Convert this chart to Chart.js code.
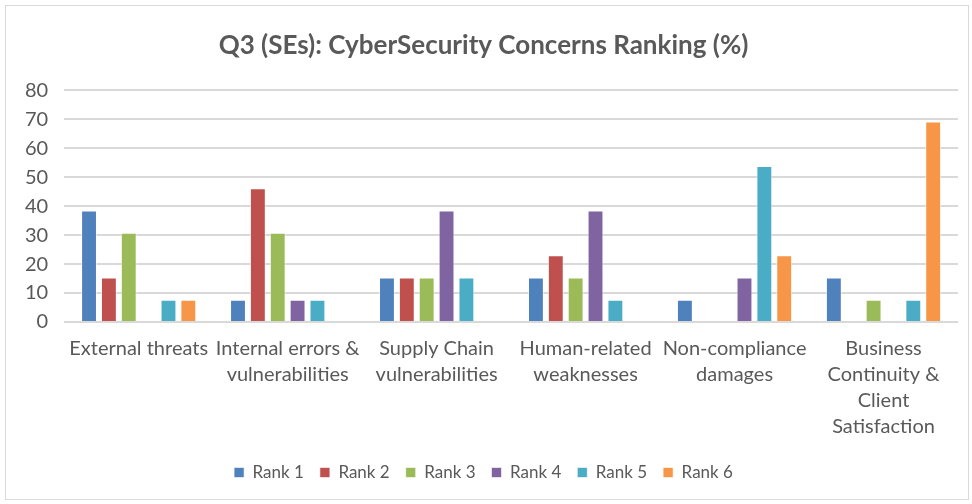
<!DOCTYPE html>
<html>
<head>
<meta charset="utf-8">
<script src="https://cdn.jsdelivr.net/npm/chart.js@4/dist/chart.umd.min.js"></script>
<style>
  html, body { margin: 0; padding: 0; background: #fff; }
  #wrap { position: absolute; left: 5px; top: 5px; width: 964px; height: 495px; border: 1px solid #d9d9d9; box-sizing: border-box; }
  canvas { display: block; }
</style>
</head>
<body>
<div id="wrap"><canvas id="chart"></canvas></div>
<script>
// survey categories (multi-line labels)
const categories = [
  ["External threats"],
  ["Internal errors &", "vulnerabilities"],
  ["Supply Chain", "vulnerabilities"],
  ["Human-related", "weaknesses"],
  ["Non-compliance", "damages"],
  ["Business", "Continuity &", "Client", "Satisfaction"]
];
const rankNames = ["Rank 1", "Rank 2", "Rank 3", "Rank 4", "Rank 5", "Rank 6"];
const rankColors = ["#4f81bd", "#c0504d", "#9bbb59", "#8064a2", "#4bacc6", "#f79646"];

// percent of respondents per rank
const rank1 = [38.46, 7.69, 15.38, 15.38, 7.69, 15.38];
const rank2 = [15.38, 46.15, 15.38, 23.08, 0, 0];
const rank3 = [30.77, 30.77, 15.38, 15.38, 0, 7.69];
const rank4 = [0, 7.69, 38.46, 38.46, 15.38, 0];
const rank5 = [7.69, 7.69, 15.38, 7.69, 53.85, 7.69];
const rank6 = [7.69, 0, 0, 0, 23.08, 69.23];
const rankValues = [rank1, rank2, rank3, rank4, rank5, rank6];

const yTicks = [0, 10, 20, 30, 40, 50, 60, 70, 80];

const wrap = document.getElementById("wrap");
const canvas = document.getElementById("chart");
canvas.width = wrap.clientWidth;
canvas.height = wrap.clientHeight;

new Chart(canvas, {
  type: "bar",
  data: {
    labels: categories,
    datasets: rankValues.map((vals, i) => ({
      label: rankNames[i],
      data: vals,
      backgroundColor: rankColors[i],
      borderColor: "rgba(255,255,255,0.6)",
      borderWidth: 1,
      categoryPercentage: 0.8,
      barPercentage: 0.8
    }))
  },
  options: {
    responsive: false,
    animation: false,
    layout: { padding: { left: 3, right: 10, top: 24, bottom: 8 } },
    plugins: {
      title: {
        display: true,
        text: "Q3 (SEs): CyberSecurity Concerns Ranking (%)",
        color: "#595959",
        font: { family: "Lato", size: 26, weight: "bold" },
        padding: { top: 0, bottom: 29 }
      },
      legend: {
        position: "bottom",
        labels: {
          color: "#595959",
          font: { family: "Lato", size: 17 },
          boxWidth: 10,
          boxHeight: 10,
          padding: 16
        }
      },
      tooltip: { enabled: false }
    },
    scales: {
      x: {
        grid: { display: false },
        border: { display: false },
        // fixed label band height so the plot ends at the right spot
        afterFit: axis => { axis.height = 126; },
        ticks: {
          color: "#595959",
          font: { family: "Lato", size: 20, lineHeight: 1.3 },
          maxRotation: 0,
          autoSkip: false,
          padding: 6
        }
      },
      y: {
        min: 0,
        max: 80,
        afterBuildTicks: axis => { axis.ticks = yTicks.map(v => ({ value: v })); },
        grid: { color: "#d9d9d9", lineWidth: 2, drawTicks: false },
        border: { display: false },
        ticks: {
          color: "#595959",
          font: { family: "Lato", size: 20 },
          padding: 16
        }
      }
    }
  }
});
</script>
</body>
</html>
